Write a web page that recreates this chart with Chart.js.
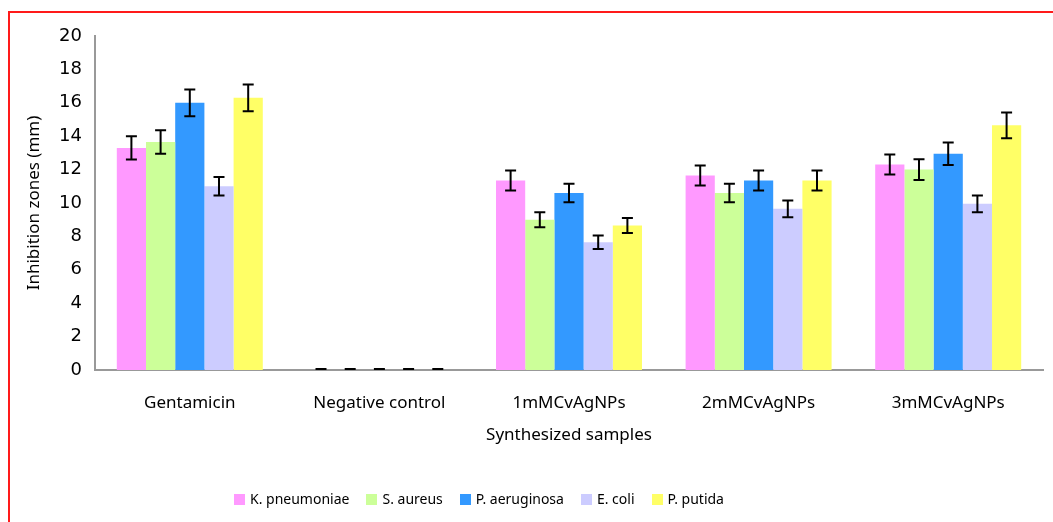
<!DOCTYPE html>
<html>
<head>
<meta charset="utf-8">
<script src="https://cdn.jsdelivr.net/npm/chart.js@4"></script>
<style>
  html, body { margin: 0; padding: 0; background: #fff; }
  #wrap { position: relative; width: 1053px; height: 522px; overflow: hidden; }
  #frame { position: absolute; left: 8px; top: 11px; width: 1060px; height: 530px;
           border-top: 2px solid #ff1a1a; border-left: 2px solid #ff1a1a; }
  canvas { position: absolute; left: 0; top: 0; }
  #legend { position: absolute; left: 234px; top: 489px; display: flex; gap: 17px;
            font: 14px "Noto Sans", sans-serif; color: #000; line-height: 20px; }
  #legend .item { display: flex; align-items: center; }
  #legend .box { width: 11px; height: 11px; margin-right: 5px; }
</style>
</head>
<body>
<div id="wrap">
  <div id="frame"></div>
  <canvas id="chart" width="1053" height="522"></canvas>
  <div id="legend"></div>
</div>
<script>
// sample groups on the x axis
const samples = ['Gentamicin', 'Negative control', '1mMCvAgNPs', '2mMCvAgNPs', '3mMCvAgNPs'];

// mean inhibition zone (mm) per organism
const kPneumoniae = [13.3, 0, 11.35, 11.65, 12.3];
const sAureus     = [13.65, 0, 9.0, 10.6, 12.0];
const pAeruginosa = [16.0, 0, 10.6, 11.35, 12.95];
const eColi       = [11.0, 0, 7.65, 9.65, 9.95];
const pPutida     = [16.3, 0, 8.65, 11.35, 14.65];

// error (+/-) per organism
const kPneumoniaeErr = [0.7, 0, 0.6, 0.6, 0.6];
const sAureusErr     = [0.7, 0, 0.45, 0.55, 0.62];
const pAeruginosaErr = [0.8, 0, 0.55, 0.6, 0.67];
const eColiErr       = [0.55, 0, 0.4, 0.5, 0.5];
const pPutidaErr     = [0.8, 0, 0.45, 0.6, 0.77];

const yTicks = [0, 2, 4, 6, 8, 10, 12, 14, 16, 18, 20];

const comic = '"Noto Sans", "DejaVu Sans", sans-serif';

const series = [
    { label: 'K. pneumoniae', data: kPneumoniae, err: kPneumoniaeErr, color: '#ff99ff' },
    { label: 'S. aureus',     data: sAureus,     err: sAureusErr,     color: '#ccff99' },
    { label: 'P. aeruginosa', data: pAeruginosa, err: pAeruginosaErr, color: '#3399ff' },
    { label: 'E. coli',       data: eColi,       err: eColiErr,       color: '#ccccff' },
    { label: 'P. putida',     data: pPutida,     err: pPutidaErr,     color: '#ffff66' }
];

// draws +/- error whiskers on each bar using the chart's own scales
const errorBars = {
    id: 'errorBars',
    afterDatasetsDraw(chart) {
        const ctx = chart.ctx;
        const y = chart.scales.y;
        ctx.save();
        ctx.strokeStyle = '#000';
        ctx.lineWidth = 2;
        chart.data.datasets.forEach((ds, i) => {
            const meta = chart.getDatasetMeta(i);
            meta.data.forEach((bar, j) => {
                const v = ds.data[j];
                const e = ds.err[j];
                const top = y.getPixelForValue(v + e);
                const bot = y.getPixelForValue(v - e);
                const x = bar.x;
                ctx.beginPath();
                if (e > 0) {
                    ctx.moveTo(x, top); ctx.lineTo(x, bot);
                    ctx.moveTo(x - 5.5, top); ctx.lineTo(x + 5.5, top);
                    ctx.moveTo(x - 5.5, bot); ctx.lineTo(x + 5.5, bot);
                } else {
                    ctx.moveTo(x - 5.5, top - 1); ctx.lineTo(x + 5.5, top - 1);
                }
                ctx.stroke();
            });
        });
        ctx.restore();
    }
};

new Chart(document.getElementById('chart'), {
    type: 'bar',
    data: {
        labels: samples,
        datasets: series.map(s => ({
            label: s.label,
            data: s.data,
            err: s.err,
            backgroundColor: s.color,
            borderWidth: 0,
            categoryPercentage: 0.77,
            barPercentage: 1.0
        }))
    },
    options: {
        responsive: false,
        animation: false,
        devicePixelRatio: 1,
        layout: { padding: { top: 36, right: 10, left: 24, bottom: 72 } },
        plugins: {
            tooltip: { enabled: false },
            legend: { display: false }
        },
        scales: {
            x: {
                grid: { display: false, drawTicks: false },
                border: { color: '#999', width: 2 },
                ticks: { color: '#000', font: { family: comic, size: 17 }, padding: 23, maxRotation: 0 },
                title: { display: true, text: 'Synthesized samples', color: '#000',
                         font: { family: comic, size: 17 }, padding: { top: 0, bottom: 5 } },
                afterFit(scale) { scale.height = 80; }
            },
            y: {
                min: 0,
                max: 20,
                afterBuildTicks(scale) { scale.ticks = yTicks.map(v => ({ value: v })); },
                grid: { display: false, drawOnChartArea: false, drawTicks: true, tickLength: 7, tickColor: '#999' },
                border: { color: '#999', width: 2 },
                ticks: { color: '#000', font: { family: '"DejaVu Sans", sans-serif', size: 18 }, padding: 6 },
                title: { display: true, text: 'Inhibition zones (mm)', color: '#000',
                         font: { family: comic, size: 17 }, padding: { top: 0, bottom: 4 } },
                afterFit(scale) { scale.width = 71; }
            }
        }
    },
    plugins: [errorBars]
});

// legend built from the same series list
const legend = document.getElementById('legend');
series.forEach(s => {
    const item = document.createElement('div');
    item.className = 'item';
    item.innerHTML = `<span class="box" style="background:${s.color}"></span><span>${s.label}</span>`;
    legend.appendChild(item);
});
</script>
</body>
</html>
